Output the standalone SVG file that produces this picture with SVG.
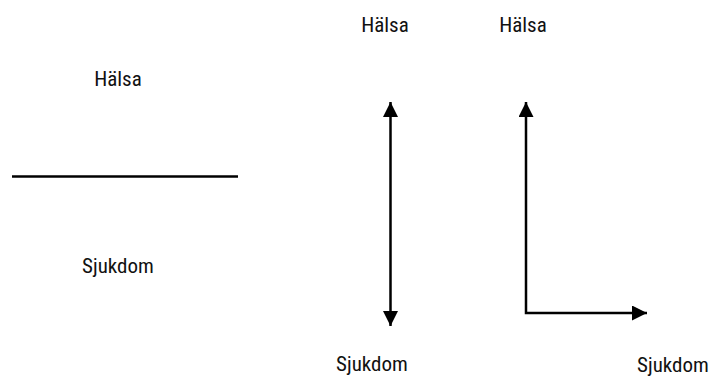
<svg xmlns="http://www.w3.org/2000/svg" width="710" height="376" viewBox="0 0 710 376">
  <style>
    .lbl { font-family: "Liberation Sans Narrow", "Roboto Condensed", "DejaVu Sans Condensed", sans-serif; font-size: 21px; fill: #111; }
    .ln { stroke: #000; stroke-width: 2.5; fill: none; }
  </style>
  <defs>
    <marker id="head" viewBox="0 0 10 10" refX="10" refY="5" markerWidth="6" markerHeight="6" markerUnits="strokeWidth" orient="auto-start-reverse">
      <path d="M0,0 L10,5 L0,10 Z" fill="#000"/>
    </marker>
  </defs>

  <!-- scale endpoints as text nodes -->
  <g id="halsa-left"><text class="lbl" x="118" y="86" text-anchor="middle">Hälsa</text></g>
  <g id="sjukdom-left"><text class="lbl" x="118" y="273" text-anchor="middle">Sjukdom</text></g>
  <g id="halsa-mid"><text class="lbl" x="385" y="32" text-anchor="middle">Hälsa</text></g>
  <g id="halsa-right"><text class="lbl" x="523" y="32" text-anchor="middle">Hälsa</text></g>
  <g id="sjukdom-mid"><text class="lbl" x="372" y="371" text-anchor="middle">Sjukdom</text></g>
  <g id="sjukdom-right"><text class="lbl" x="673" y="372" text-anchor="middle">Sjukdom</text></g>

  <g id="connectors">
    <!-- dividing line -->
    <line class="ln" x1="12" y1="176.5" x2="238" y2="176.5"/>
    <!-- continuum: double-headed arrow -->
    <line class="ln" x1="390.5" y1="102" x2="390.5" y2="326" marker-start="url(#head)" marker-end="url(#head)"/>
    <!-- two-axis model -->
    <polyline class="ln" points="526,102 526,313 647,313" marker-start="url(#head)" marker-end="url(#head)"/>
  </g>
</svg>
